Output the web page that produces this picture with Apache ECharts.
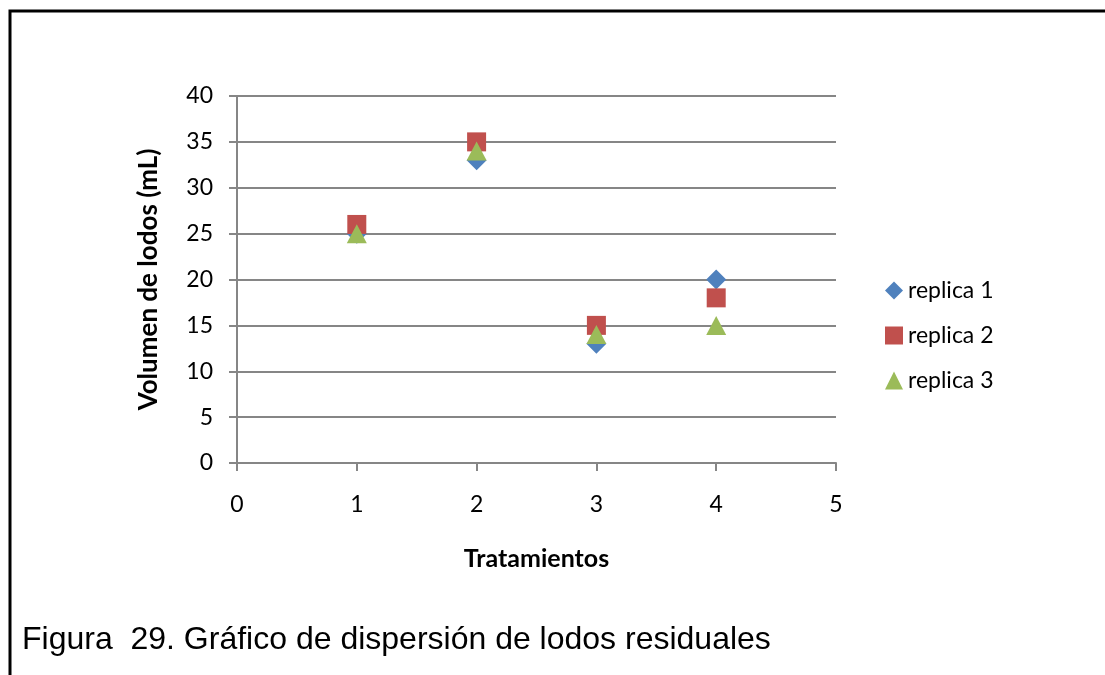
<!DOCTYPE html>
<html>
<head>
<meta charset="utf-8">
<script src="https://cdn.jsdelivr.net/npm/echarts@6/dist/echarts.min.js"></script>
<style>
html,body{margin:0;padding:0;background:#fff;}
#c{width:1105px;height:675px;}
</style>
</head>
<body>
<div id="c"></div>
<script>
const treatments = [1, 2, 3, 4];
const replica1 = [25, 33, 13, 20];
const replica2 = [26, 35, 15, 18];
const replica3 = [25, 34, 14, 15];
const seriesNames = ['replica 1', 'replica 2', 'replica 3'];
const xTicks = [0, 1, 2, 3, 4, 5];
const yTicks = [0, 5, 10, 15, 20, 25, 30, 35, 40];

const colors = ['#4F81BD', '#C0504D', '#9BBB59'];
const symbols = ['diamond', 'rect', 'triangle'];
const sizes = [[20, 20], [19, 19], [20, 19]];
const allData = [replica1, replica2, replica3];
const font = 'Lato, "Open Sans", sans-serif';

const chart = echarts.init(document.getElementById('c'));
chart.setOption({
  animation: false,
  backgroundColor: '#fff',
  grid: { left: 237, top: 96, width: 599, height: 367, containLabel: false },
  legend: {
    orient: 'vertical',
    left: 880,
    top: 274,
    itemGap: 22,
    itemWidth: 18,
    itemHeight: 18,
    data: seriesNames.map((n, i) => ({ name: n, icon: symbols[i] })),
    textStyle: { fontFamily: font, fontSize: 23, color: '#000', padding: [0, 0, 0, 0] }
  },
  xAxis: {
    type: 'value',
    min: xTicks[0],
    max: xTicks[xTicks.length - 1],
    interval: 1,
    name: 'Tratamientos',
    nameLocation: 'middle',
    nameGap: 83,
    nameTextStyle: { fontFamily: font, fontSize: 25, fontWeight: 'bold', color: '#000' },
    axisLine: { show: true, onZero: false, lineStyle: { color: '#868686', width: 2 } },
    axisTick: { show: true, length: 8, lineStyle: { color: '#868686', width: 2 } },
    axisLabel: { fontFamily: font, fontSize: 23, color: '#000', margin: 30 },
    splitLine: { show: false }
  },
  yAxis: {
    type: 'value',
    min: yTicks[0],
    max: yTicks[yTicks.length - 1],
    interval: 5,
    name: 'Volumen de lodos (mL)',
    nameLocation: 'middle',
    nameGap: 75,
    nameTextStyle: { fontFamily: font, fontSize: 26, fontWeight: 'bold', color: '#000' },
    axisLine: { show: true, lineStyle: { color: '#868686', width: 2 } },
    axisTick: { show: true, length: 8, lineStyle: { color: '#868686', width: 2 } },
    axisLabel: { fontFamily: font, fontSize: 23, color: '#000', margin: 24 },
    splitLine: { show: true, lineStyle: { color: '#868686', width: 2 } }
  },
  series: seriesNames.map((n, i) => ({
    name: n,
    type: 'scatter',
    symbol: symbols[i],
    symbolSize: sizes[i],
    itemStyle: { color: colors[i], opacity: 1 },
    data: treatments.map((t, j) => [t, allData[i][j]]),
    z: 3 + i
  })),
  graphic: [
    {
      type: 'polyline',
      shape: { points: [[10, 675], [10, 11], [1105, 11]] },
      style: { stroke: '#000', lineWidth: 3, fill: null }
    },
    {
      type: 'text',
      left: 22,
      top: 624,
      style: {
        text: 'Figura  29. Gráfico de dispersión de lodos residuales',
        font: '32px "Liberation Sans", Arial, sans-serif',
        fill: '#000'
      }
    }
  ]
});
</script>
</body>
</html>
